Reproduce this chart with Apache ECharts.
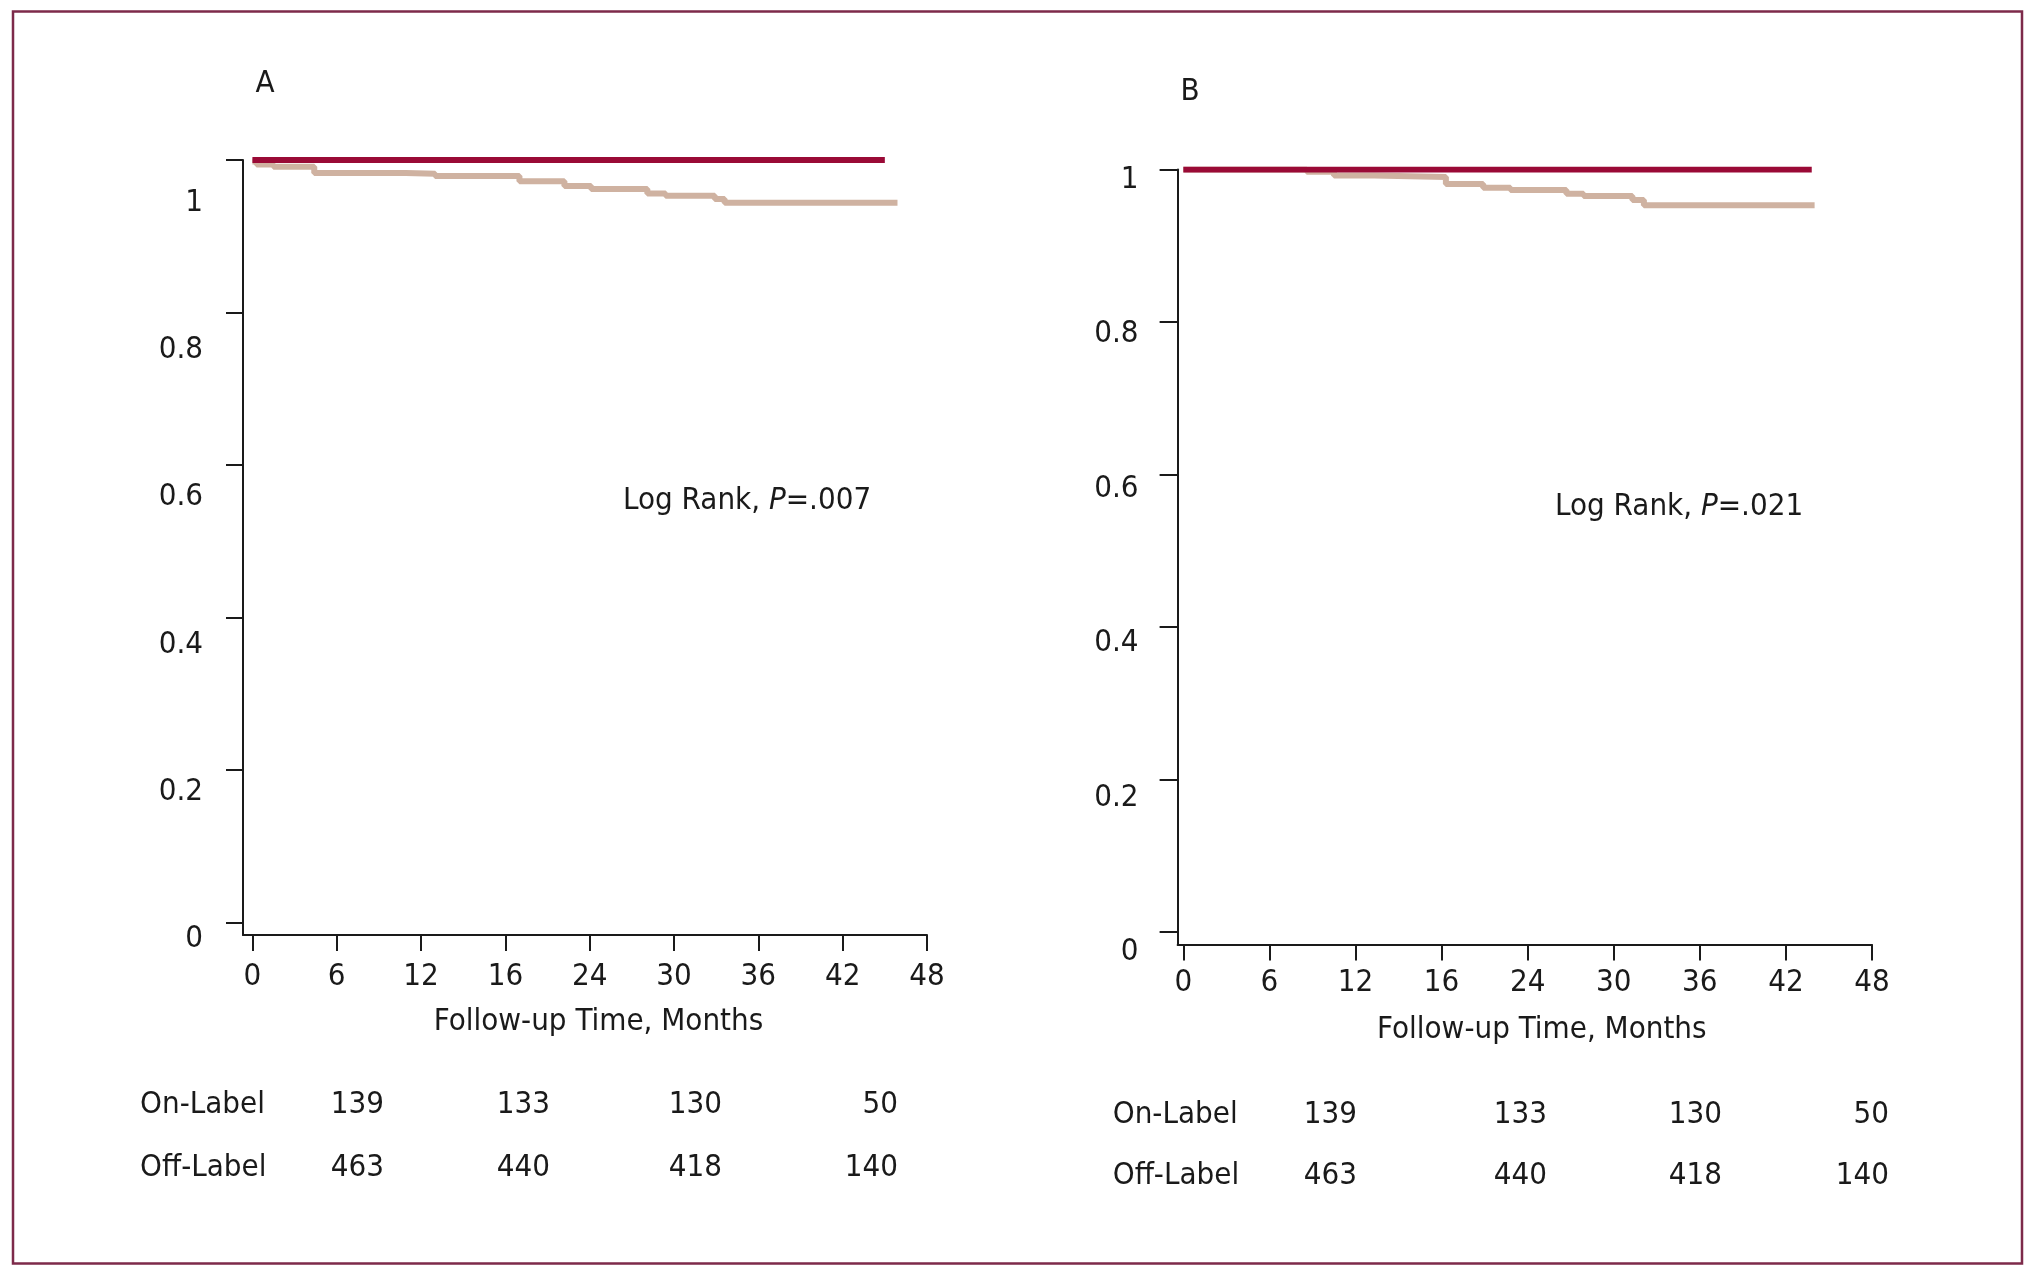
<!DOCTYPE html>
<html><head><meta charset="utf-8">
<script src="https://cdn.jsdelivr.net/npm/echarts@6/dist/echarts.min.js"></script>
<style>html,body{margin:0;padding:0;background:#fff}#c{width:2037px;height:1283px}</style>
</head><body><div id="c"></div>
<script>
// ---- data ----
const xTickValues = [0, 6, 12, 18, 24, 30, 36, 42, 48];
const xTickLabels = ['0', '6', '12', '16', '24', '30', '36', '42', '48'];
const yTickValues = [0, 0.2, 0.4, 0.6, 0.8, 1];
const yTickLabels = ['0', '0.2', '0.4', '0.6', '0.8', '1'];

const onLabelA_t = [0, 45.0];
const onLabelA_s = [1, 1];
const offLabelA_t = [0, 0.3, 1.5, 4.4, 10.9, 13.0, 19.0, 22.2, 24.1, 28.1, 29.4, 32.9, 33.6, 45.9];
const offLabelA_s = [0.998, 0.994, 0.991, 0.983, 0.982, 0.979, 0.972, 0.966, 0.962, 0.956, 0.953, 0.949, 0.944, 0.944];

const onLabelB_t = [0, 43.8];
const onLabelB_s = [1, 1];
const offLabelB_t = [0, 8.6, 10.5, 13.3, 18.3, 20.9, 22.8, 26.7, 27.9, 31.3, 32.1, 44.0];
const offLabelB_s = [1.0, 0.997, 0.992, 0.990, 0.981, 0.976, 0.973, 0.968, 0.965, 0.960, 0.953, 0.953];

const atRiskGroups = ['On-Label', 'Off-Label'];
const atRiskOn = [139, 133, 130, 50];
const atRiskOff = [463, 440, 418, 140];
const panelNames = ['A', 'B'];
const logRankP = ['.007', '.021'];
const xAxisTitle = 'Follow-up Time, Months';

// ---- style ----
const FONT = '"Liberation Sans Narrow", "Arial Narrow", "DejaVu Sans Condensed", sans-serif';
const FS = 31;
const TXT = '#1a1a1a';
const RED = '#9a0a36';
const TAN = '#cfb2a1';
const BORDER = '#7d2a4a';
const DY = 4;

function pairs(t, s) { return t.map((v, i) => [v, s[i]]); }
function xFmt(v) { const i = xTickValues.indexOf(Math.round(v)); return i >= 0 ? xTickLabels[i] : ''; }
function yFmt(v) { return yTickLabels[Math.round(v * 5)]; }

const panels = [
  { grid: { left: 243, top: 160, width: 684, height: 775 }, xmin: -0.67, ymin: -0.016,
    lblGrid: { left: 243, top: 199 + DY, width: 10, height: 736 },
    tickLenY: 17, xMargin: 22 + DY, yMargin: 40, nameGap: 66 + DY + 1, namePad: 27 },
  { grid: { left: 1177.6, top: 169.4, width: 694.4, height: 775.1 }, xmin: -0.40, ymin: -0.0164,
    lblGrid: { left: 1177.6, top: 175.5 + DY, width: 10, height: 772.7 },
    tickLenY: 18, xMargin: 19 + DY, yMargin: 39, nameGap: 64 + DY + 2, namePad: 34 }
];

const grid = [], xAxis = [], yAxis = [], series = [];
// plot grids (0,1)
panels.forEach((p, k) => {
  grid.push(Object.assign({ containLabel: false }, p.grid));
  xAxis.push({
    type: 'value', gridIndex: k, min: p.xmin, max: 48,
    axisLine: { onZero: false, lineStyle: { color: TXT, width: 2 } },
    axisTick: { customValues: xTickValues, length: 16, lineStyle: { color: TXT, width: 2 } },
    axisLabel: { customValues: xTickValues, formatter: xFmt, margin: p.xMargin, color: TXT, fontSize: FS, fontFamily: FONT },
    splitLine: { show: false },
    name: xAxisTitle, nameLocation: 'middle', nameGap: p.nameGap,
    nameTextStyle: { color: TXT, fontSize: FS, fontFamily: FONT, padding: [0, 0, 0, p.namePad] }
  });
  yAxis.push({
    type: 'value', gridIndex: k, min: p.ymin, max: 1, position: 'left',
    axisLine: { show: true, onZero: false, lineStyle: { color: TXT, width: 2 } },
    axisTick: { show: true, customValues: yTickValues, length: p.tickLenY, lineStyle: { color: TXT, width: 2 } },
    axisLabel: { show: false },
    splitLine: { show: false }
  });
});
// label grids (2,3): tick labels sit slightly offset from the ticks, as in the figure
panels.forEach((p, k) => {
  grid.push(Object.assign({ containLabel: false }, p.lblGrid));
  xAxis.push({ type: 'value', gridIndex: 2 + k, show: false, min: 0, max: 1 });
  yAxis.push({
    type: 'value', gridIndex: 2 + k, min: 0, max: 1, position: 'left',
    axisLine: { show: false }, axisTick: { show: false },
    axisLabel: { customValues: yTickValues, formatter: yFmt, margin: p.yMargin, color: TXT, fontSize: FS, fontFamily: FONT },
    splitLine: { show: false }
  });
});

const curveSets = [
  [pairs(offLabelA_t, offLabelA_s), pairs(onLabelA_t, onLabelA_s)],
  [pairs(offLabelB_t, offLabelB_s), pairs(onLabelB_t, onLabelB_s)]
];
curveSets.forEach((cs, k) => {
  series.push({ type: 'line', name: 'Off-Label', xAxisIndex: k, yAxisIndex: k, data: cs[0], step: 'end',
    symbol: 'none', lineStyle: { color: TAN, width: 6 }, z: 2, silent: true });
  series.push({ type: 'line', name: 'On-Label', xAxisIndex: k, yAxisIndex: k, data: cs[1], step: 'end',
    symbol: 'none', lineStyle: { color: RED, width: 6 }, z: 3, silent: true });
});

function txt(x, y, text, align, extra) {
  return { type: 'text', x: x, y: y + DY, silent: true,
    style: Object.assign({ text: text, fill: TXT, fontSize: FS, fontFamily: FONT, textAlign: align || 'left', textVerticalAlign: 'middle' }, extra || {}) };
}

const graphic = [];
graphic.push({ type: 'rect', shape: { x: 13, y: 11.5, width: 2009, height: 1252 }, style: { fill: 'none', stroke: BORDER, lineWidth: 2.5 }, silent: true });
graphic.push(txt(265, 80, panelNames[0], 'center'));
graphic.push(txt(1190, 88, panelNames[1], 'center'));

const logPos = [[623, 497], [1555, 503]];
logPos.forEach((pos, k) => {
  graphic.push({ type: 'text', x: pos[0], y: pos[1] + DY, silent: true,
    style: { text: '{n|Log Rank, }{i|P}{n|=' + logRankP[k] + '}', textAlign: 'left', textVerticalAlign: 'middle',
      fill: TXT, fontSize: FS, fontFamily: FONT,
      rich: { n: { fill: TXT, fontSize: FS, fontFamily: FONT }, i: { fill: TXT, fontSize: FS, fontFamily: FONT, fontStyle: 'italic' } } } });
});

const tableLayout = [
  { left: 140, rows: [1101, 1164], cols: [384, 550, 722, 898] },
  { left: 1112.7, rows: [1110.5, 1172], cols: [1357, 1547, 1722, 1889] }
];
tableLayout.forEach(L => {
  graphic.push(txt(L.left, L.rows[0], atRiskGroups[0], 'left'));
  graphic.push(txt(L.left, L.rows[1], atRiskGroups[1], 'left'));
  atRiskOn.forEach((v, i) => graphic.push(txt(L.cols[i], L.rows[0], String(v), 'right')));
  atRiskOff.forEach((v, i) => graphic.push(txt(L.cols[i], L.rows[1], String(v), 'right')));
});

const chart = echarts.init(document.getElementById('c'), null, { renderer: 'canvas' });
chart.setOption({
  animation: false,
  backgroundColor: '#ffffff',
  grid: grid, xAxis: xAxis, yAxis: yAxis, series: series, graphic: graphic
});
</script>
</body></html>
